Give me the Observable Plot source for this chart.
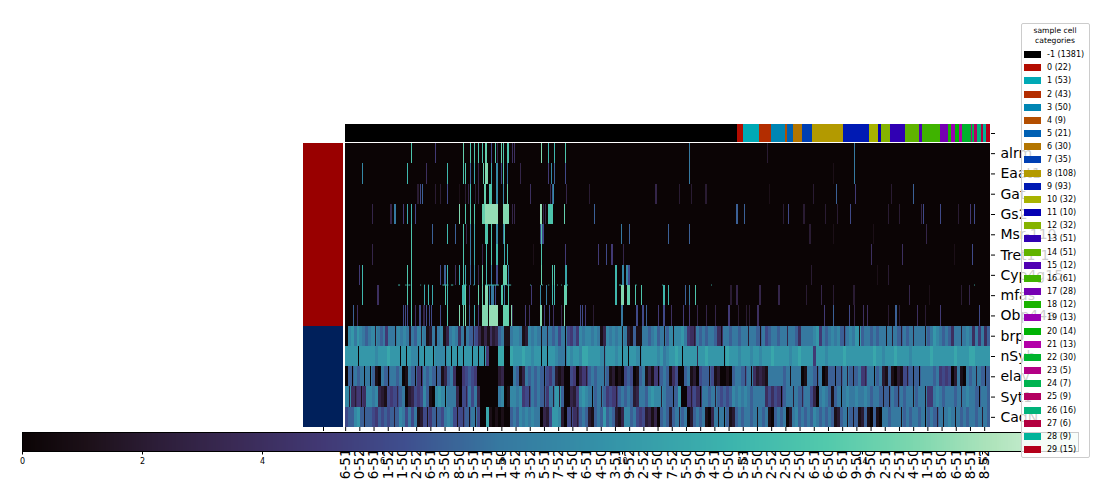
<!DOCTYPE html>
<html><head><meta charset="utf-8">
<script src="https://cdn.jsdelivr.net/npm/d3@7"></script>
<script src="https://cdn.jsdelivr.net/npm/@observablehq/plot@0.6"></script>
<style>
html,body{margin:0;padding:0;background:#fff}
#page{position:relative;width:1100px;height:480px;overflow:hidden;font-family:"DejaVu Sans",sans-serif}
#page svg{position:absolute;left:0;top:0;background:transparent}
#legend{position:absolute;left:1020.5px;top:23px;width:67px;height:433px;background:rgba(255,255,255,.8);border:1px solid #ccc;border-radius:2px;font-size:8px;color:#000}
#legend .t{position:absolute;left:0;width:100%;text-align:center;font-size:7.6px;line-height:10px;top:2px}
#legend .r{position:absolute;left:2.5px;height:9px;display:flex;align-items:center;white-space:nowrap}
#legend .s{display:inline-block;width:17px;height:7px;margin-right:6px}
</style></head><body><div id="page"></div>
<script>
const genes = ["alrm","Eaat1","Gat","Gs2","Msr-110","Tret1-1","Cyp4g15","mfas","Obp44a","brp","nSyb","elav","Syt1","CadN"];
const geneGroups = ["#990000","#990000","#990000","#990000","#990000","#990000","#990000","#990000","#990000","#00205b","#00205b","#00205b","#00205b","#00205b"];
const categories = [-1,0,1,2,3,4,5,6,7,8,9,10,11,12,13,14,15,16,17,18,19,20,21,22,23,24,25,26,27,28,29];
const categoryCounts = [1381,22,53,43,50,9,21,30,35,108,93,32,10,32,51,51,12,61,28,12,13,14,13,30,5,7,9,16,6,9,15];
const categoryColors = ["#000000","#b30c00","#00a9b5","#b32d00","#0085b3","#b34e00","#0060b3","#b37500","#003fb3","#b39a00","#001ab3","#a8b300","#0500b3","#85b300","#3000b3","#60b300","#5000b3","#3fb300","#7500b3","#1ab300","#9a00b3","#00b305","#b300a8","#00b32d","#b30085","#00b350","#b30060","#00b37a","#b3003f","#00b39a","#b3001a"];
const sampleTickLabels = ["6-51","0-52","6-51","1-52","1-50","2-52","6-51","3-50","8-50","5-51","1-51","1-50","4-52","3-52","5-51","7-52","4-50","6-51","4-50","3-51","9-52","2-52","4-50","7-52","5-50","9-50","4-51","0-50","5-51","5-50","2-52","2-50","2-50","6-51","6-50","6-51","9-50","9-50","2-51","2-51","4-50","1-51","8-50","6-51","8-51","8-52"];
const colorbarTicks = [0,2,4,6,8,10,12,14,16];
const colorMax = 17.6;
const makoAt = [0,.06,.12,.2,.28,.36,.45,.55,.67,.76,.84,.92,1];
const makoColors = ["#0b0405","#1c1018","#2b1c35","#3a2a55","#413873","#3f4e8e","#3678a0","#3492a8","#3cb4ad","#52c9ac","#7ad6ae","#b0e4bc","#def5e5"];

// sparse genes: [first column, level, last column (when wider than a line)]
const alrmSpikes = [[233,13],[318,5],[416,14],[441,13],[455,13],[469,13],[483,13],[494,14,500],[515,6],[529,13],[536,3],[550,14],[557,13],[569,13,577],[589,4],[596,4],[691,15],[716,12],[737,12],[775,13],[1212,8],[1487,2],[1793,8]];
const eaat1Spikes = [[61,9],[219,12],[286,4],[360,12],[416,13],[423,13],[441,7],[455,11],[469,3],[487,14],[494,15,502],[515,11],[533,9],[550,6],[557,13],[571,8],[617,3],[716,5],[726,9],[737,7],[775,6],[1212,8],[1719,1],[1793,8]];
const gatSpikes = [[255,2],[265,6],[272,7],[318,2],[335,2],[360,6],[402,1],[423,2],[434,3],[441,12],[459,2],[469,3],[490,14,498],[508,13,519],[533,9],[557,9],[571,14],[652,4],[723,3],[730,7],[733,9],[779,3],[860,2],[1093,3],[1177,2],[1219,2],[1269,2],[1494,1],[1649,2],[1730,7],[1796,5],[1923,2],[2001,7]];
const gs2Spikes = [[96,3],[160,3],[174,8],[205,5],[219,11],[233,12],[247,6],[402,15],[423,13],[441,13],[455,13],[483,14,494],[494,15.5,537],[557,15,579],[589,3],[596,3],[686,15.5,695],[698,3],[705,3],[716,13,734],[772,14,776],[877,7],[1378,7],[1406,7],[1543,2],[1561,6],[1614,2],[1691,2],[1733,2],[1779,6],[1913,2],[1951,2],[2029,3],[2036,6],[2096,6],[2159,2],[2201,5],[2215,6]];
const msrSpikes = [[233,13],[307,7],[360,12],[388,7],[416,13],[427,3],[441,8],[455,11],[494,13,502],[515,13],[533,9],[557,8],[561,13],[687,6,699],[691,13],[973,8],[1001,7],[1138,7],[1212,7],[1635,2],[1719,1],[1860,1],[2046,3]];
const tretSpikes = [[96,3],[233,13],[416,13],[441,8],[455,11],[483,3],[497,12],[515,13],[533,12],[561,11],[571,12],[663,1],[691,13],[775,5],[891,5],[920,6],[938,5],[980,3],[1853,4],[1962,4],[2145,1],[2206,6]];
const cypSpikes = [[50,5],[61,12],[219,13],[233,13],[335,6],[350,7],[360,12],[388,4],[402,11],[416,13],[423,11],[441,7],[455,9],[469,3],[483,14],[497,12],[515,8],[533,6],[557,14,572],[575,8],[691,14],[730,13],[737,13],[775,11,783],[952,12],[977,9],[991,9],[998,6],[1642,2],[1874,1],[1913,2]];
const mfasSpikes = [[61,12],[114,4],[219,13],[233,13],[279,11],[293,12],[307,11],[353,13],[360,12],[413,12,421],[423,14],[437,5],[469,14],[483,14],[494,15,505],[508,8],[515,8,523],[529,6],[550,13,558],[561,8],[575,13],[656,5],[687,9],[708,8],[730,12],[737,12],[772,14,783],[952,12],[973,15,981],[994,14,1002],[1022,13],[1043,13],[1121,12],[1138,12],[1198,7],[1212,8],[1233,13],[1357,2],[1378,3],[1459,3],[1526,3],[1624,2],[1677,3],[1719,2],[1790,2],[1987,3],[2057,1],[2170,2],[2198,3]];
const obpSpikes = [[29,7],[43,4],[205,6],[212,6],[219,6],[233,13],[247,4],[262,6],[276,3],[286,6],[297,6],[304,6],[335,6],[360,13],[402,15],[416,14],[423,15],[437,7],[455,11],[469,5],[483,15,505],[508,15.5,537],[557,14,579],[585,15],[589,3],[634,5],[649,4],[687,15,695],[701,5],[719,6],[733,4],[761,3],[772,15],[828,6],[835,6],[846,5],[874,2],[973,8,978],[1026,6],[1047,6],[1061,7],[1103,5],[1121,6],[1149,4],[1191,5],[1212,5],[1240,3],[1272,3],[1304,3],[1350,5],[1385,2],[1413,2],[1423,2],[1452,4],[1687,5],[1719,7],[1775,6],[1793,3],[1825,4],[1839,4],[1913,2],[1937,7,1942],[1951,2],[2015,4],[2043,2],[2096,5,2100],[2232,6]];
const sparseRows = [alrmSpikes,eaat1Spikes,gatSpikes,gs2Spikes,msrSpikes,tretSpikes,cypSpikes,mfasSpikes,obpSpikes];
// short bright dashes along the upper edge of the mfas row: [first column, last column]
const mfasEdgeDashes = [[187,194],[212,217],[223,230],[265,268],[279,282],[293,296],[343,364],[373,381],[416,428],[452,455],[483,486],[494,542],[554,559],[569,585],[652,655],[694,697],[716,719],[747,750],[761,764],[775,785],[965,973],[1022,1027],[1117,1120],[1289,1292],[2215,2218]];

// dense genes: one hex digit per stretch of columns, four stretches per gene
const denseSpan = [0,570,1141,1711,2271];
const brp = ["09a8a987892878588198982879281281891389848187263131423781","189981298981828786806575989989813989891821711887897817","9199a85428787887418878878828871867887883887488889a5878","98972898a178878788182872878288817 8a98787488289848584 7".replace(/ /g,"")];
const nSyb = ["aaaa0aaaaa9aaabaaa0a0a990a0aa09990a0a0a0aa0a0a05000bb0","0baaabaa9aa0a0aa9880a9aa9bbaaaa92aaa9a0a0aa90aaaaa9a89","aaba0aaaa3aabaaaaa0baaa9aaa9aa9aaabaaaaa9aabaaaa5aaa9a","aaaabaaaaaaaaabaa9aaabaaaa9aaaaaabaaaaaaabaaaabbaaaaa"];
const elav = ["070878080710870887801870508787071378400567650000000230","008713878787065721200650352787882712010676017813150787","146007812067716120010788738042321888887818880188718017","70728271785388078217102162707088887856560281087828707"];
const syt1 = ["9242514998932165637802365697109a9088830638683000000890","1998956287872582a27003259a98078275652787872388 79a99287".replace(/ /g,""),"707a00526408878276767989898788884646507882873886308987","17808988988987887171872878817881558987888782898870887"];
const cadN = ["6779a717765767672798686812615717689861627181600b101010","078798989880326aa920614278721787a787213997865623130787","278278027878103818071278788781878107878028978787987878","71278171712710710887888178788780787281898187878878287"];
const denseRows = [brp,nSyb,elav,syt1,cadN];

const nCols = d3.sum(categoryCounts);
const colorOpts = {type:"linear",domain:makoAt.map(f=>f*colorMax),range:makoColors,clamp:true};
const baseStyle = {fontFamily:"DejaVu Sans, sans-serif",background:"transparent",color:"#000",overflow:"visible"};
const page = document.getElementById("page");

// main heatmap
const cells = [];
genes.forEach(g=>cells.push({gene:g,a:0,b:nCols,v:0}));
sparseRows.forEach((row,i)=>row.forEach(([a,v,b])=>cells.push({gene:genes[i],a,b:b??a+4,v})));
denseRows.forEach((segments,i)=>{
  segments.forEach((s,n)=>{
    const start = denseSpan[n], k = (denseSpan[n+1]-start)/s.length, gene = genes[9+i];
    const lv = [...s].map(c=>parseInt(c,16));
    lv.forEach((v,j)=>{
      const a = start+j*k, b = a+k;
      // a lone dark stripe is narrower than a stretch: it sits on its neighbour's level
      if (v<=3 && j>0 && j<lv.length-1 && lv[j-1]>3 && lv[j+1]>3) {
        cells.push({gene,a,b,v:lv[j-1]},{gene,a:a+k*.3,b:a+k*.72,v});
      } else cells.push({gene,a,b,v});
    });
  });
});
const colTicks = sampleTickLabels.map((_,i)=>i*50+.5);
page.append(Plot.plot({
  width:1100,height:480,marginLeft:345,marginRight:110,marginTop:143,marginBottom:53,
  style:baseStyle,
  x:{domain:[0,nCols]},
  y:{domain:genes,padding:0,round:false},
  color:colorOpts,
  marks:[
    Plot.barX(cells,{x1:"a",x2:"b",y:"gene",fill:"v",shapeRendering:"crispEdges"}),
    Plot.ruleY(mfasEdgeDashes,{x1:d=>d[0],x2:d=>d[1],y:()=>"mfas",dy:-10.6,stroke:()=>12,strokeWidth:1}),
    Plot.axisY({anchor:"right",tickSize:4,tickPadding:6,fontSize:14,label:null,stroke:"#000"}),
    Plot.axisX(colTicks,{anchor:"bottom",tickSize:4,tickPadding:17,tickRotate:-90,fontSize:13.5,label:null,
      tickFormat:d=>sampleTickLabels[(d-.5)/50],stroke:"#000"})
  ]
}));

// sample category strip above the heatmap
let pos = 0;
const strip = categories.map((c,i)=>{const r={key:c,a:pos,b:pos+categoryCounts[i],col:categoryColors[i],row:"sample"};pos=r.b;return r;});
page.append(Plot.plot({
  width:1100,height:480,marginLeft:345,marginRight:110,marginTop:124,marginBottom:338,
  style:baseStyle,
  x:{domain:[0,nCols],axis:null},
  y:{domain:["sample"],padding:0,round:false},
  marks:[
    Plot.barX(strip,{x1:"a",x2:"b",y:"row",fill:"col",shapeRendering:"crispEdges"}),
    Plot.axisY({anchor:"right",tickSize:4,tickFormat:()=>"",label:null})
  ]
}));

// gene group strip left of the heatmap
page.append(Plot.plot({
  width:1100,height:480,marginLeft:303,marginRight:757,marginTop:143,marginBottom:53,
  style:baseStyle,
  x:{domain:["gene group"],padding:0,round:false},
  y:{domain:genes,padding:0,axis:null,round:false},
  marks:[
    Plot.cell(genes,{x:()=>"gene group",y:d=>d,fill:(d,i)=>geneGroups[i],shapeRendering:"crispEdges"}),
    Plot.axisX({anchor:"bottom",tickSize:4,tickFormat:()=>"",label:null})
  ]
}));

// colour bar
const barSteps = d3.range(0,480).map(i=>i/480*colorMax);
page.append(Plot.plot({
  width:1100,height:480,marginLeft:22,marginRight:22,marginTop:432,marginBottom:29,
  style:baseStyle,
  x:{domain:[0,colorMax]},
  y:{domain:[0,1],axis:null},
  color:colorOpts,
  marks:[
    Plot.rect(barSteps,{x1:d=>d,x2:d=>d+colorMax/480+.02,y1:0,y2:1,fill:d=>d,shapeRendering:"crispEdges"}),
    Plot.frame({stroke:"#000",strokeWidth:1}),
    Plot.axisX(colorbarTicks,{anchor:"bottom",tickSize:3.5,tickPadding:3,fontSize:8,label:null,tickFormat:d=>d,stroke:"#000"})
  ]
}));

// legend
const legend = document.createElement("div");
legend.id = "legend";
legend.innerHTML = '<div class="t">sample cell<br>categories</div>';
categories.forEach((c,i)=>{
  const r = document.createElement("div");
  r.className = "r";
  r.style.top = (26+i*13.17)+"px";
  r.innerHTML = `<span class="s" style="background:${categoryColors[i]}"></span>${c} (${categoryCounts[i]})`;
  legend.append(r);
});
page.append(legend);
</script></body></html>
